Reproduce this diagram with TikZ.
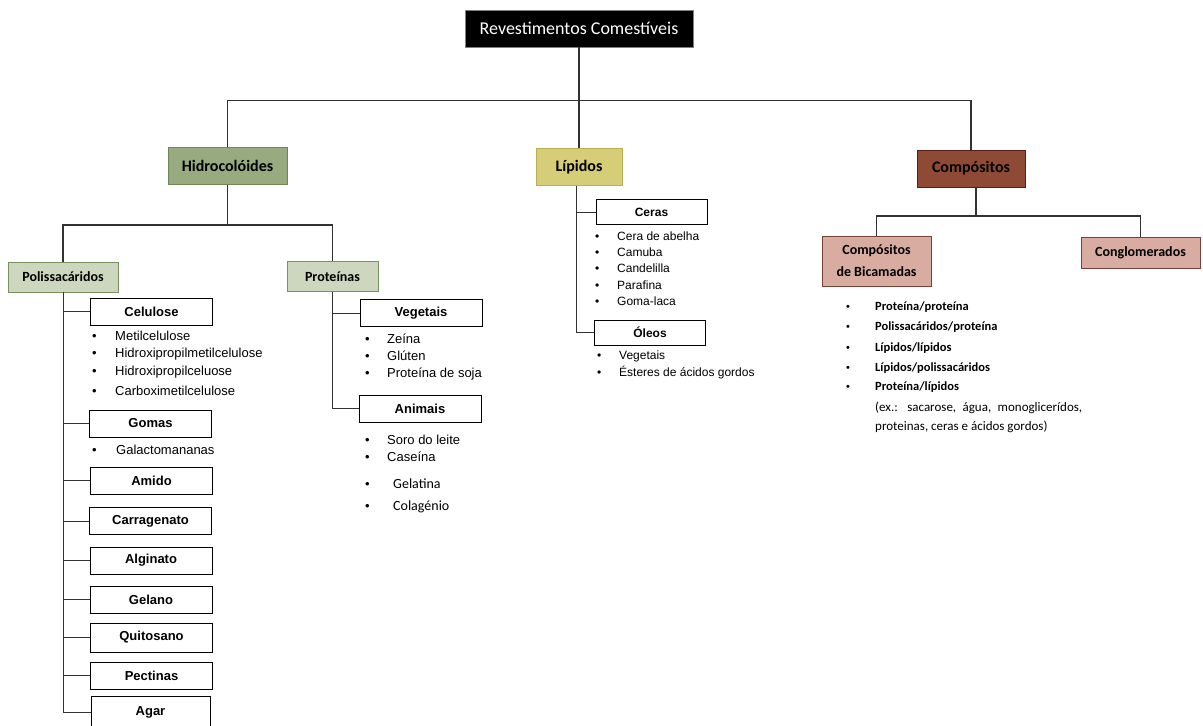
\documentclass[tikz,border=0pt]{standalone}
\usepackage{fontspec}
\setmainfont{Liberation Sans}
\newfontfamily\carl{Carlito}
\definecolor{hidrofill}{RGB}{152,171,128}
\definecolor{hidroline}{RGB}{110,135,85}
\definecolor{polyfill}{RGB}{205,215,190}
\definecolor{polyline}{RGB}{120,145,95}
\definecolor{lipfill}{RGB}{214,205,120}
\definecolor{lipline}{RGB}{185,175,80}
\definecolor{compfill}{RGB}{142,74,52}
\definecolor{compline}{RGB}{90,30,20}
\definecolor{bicfill}{RGB}{216,172,160}
\definecolor{bicline}{RGB}{120,65,55}
\definecolor{conn}{RGB}{50,50,50}
\newcommand{\bitem}[2]{\makebox[#1][l]{•}#2}
\newcommand{\citem}[2]{\makebox[#1][l]{\rmfamily\mdseries\fontsize{11}{13}\selectfont •}#2}
\tikzset{
  rootbox/.style={fill=black, text=white, draw=gray, minimum width=228pt, minimum height=37pt, inner sep=0pt, font=\carl\fontsize{18}{20}\selectfont},
  lvlone/.style={minimum height=37pt, inner sep=0pt, line width=1pt, font=\carl\bfseries\fontsize{16}{18}\selectfont},
  lvltwo/.style={minimum height=30pt, inner sep=0pt, line width=0.8pt, font=\carl\bfseries\fontsize{14}{16}\selectfont, align=center},
  catbox/.style={draw=black, fill=white, line width=0.9pt, minimum width=122pt, minimum height=27pt, inner sep=0pt, font=\bfseries\fontsize{13}{15}\selectfont},
  smallcat/.style={catbox, minimum width=111pt, minimum height=25pt, font=\bfseries\fontsize{12}{14}\selectfont},
  itm/.style={anchor=west, inner sep=0pt, font=\fontsize{13}{15}\selectfont},
  sitm/.style={itm, font=\fontsize{12}{14}\selectfont},
  bitm/.style={itm, font=\carl\bfseries\fontsize{12.5}{14}\selectfont},
  ritm/.style={itm, font=\carl\fontsize{13}{15}\selectfont},
  link/.style={draw=conn, line width=1.2pt},
  slink/.style={draw=conn, line width=0.9pt}
}
\begin{document}
\begin{tikzpicture}[x=1pt,y=-1pt]
\path[use as bounding box, fill=white] (0,0) rectangle (1203,726);

% top level
\node[rootbox] (root) at (579,28.5) {Revestimentos Comestíveis};
\node[lvlone, fill=hidrofill, draw=hidroline, minimum width=119pt] (hidro) at (227.5,165.5) {Hidrocolóides};
\node[lvlone, fill=lipfill, draw=lipline, minimum width=86pt] (lip) at (579,167) {Lípidos};
\node[lvlone, fill=compfill, draw=compline, minimum width=108pt] (comp) at (971,168.5) {Compósitos};

\draw[link] (hidro.north) -- ++(0,-46) -| (comp.north);
\draw[link] (root.south) -- (lip.north);

% hidrocoloides
\node[lvltwo, fill=polyfill, draw=polyline, minimum width=110pt] (polis) at (63,277) {Polissacáridos};
\node[lvltwo, fill=polyfill, draw=polyline, minimum width=91pt] (prot) at (332.5,276.5) {Proteínas};
\coordinate (hb) at (227.5,225);
\draw[link] (hidro.south) -- (hb);
\draw[link] (polis.north) |- (hb) -| (prot.north);

% polissacaridos
\node[catbox] (celu) at (151.5,311.5) {Celulose};
\node[catbox] (gomas) at (150.5,423.5) {Gomas};
\node[catbox] (amido) at (151.5,480.5) {Amido};
\node[catbox] (carra) at (150.5,521) {Carragenato};
\node[catbox] (algi) at (151,560.5) {Alginato};
\node[catbox] (gela) at (151,599.5) {Gelano};
\node[catbox, minimum height=29pt] (quito) at (151.5,637.5) {Quitosano};
\node[catbox] (pect) at (151.5,675.5) {Pectinas};
\node[catbox, minimum width=119pt, minimum height=31pt] (agar) at (150.5,712) {Agar};
\foreach \b in {celu,gomas,amido,carra,algi,gela,quito,pect,agar}
  \draw[slink] (polis.south) |- (\b.west);

\node[itm] (i1) at (92,336) {\bitem{23pt}{Metilcelulose}};
\node[itm] (i2) at (92,354) {\bitem{23pt}{Hidroxipropilmetilcelulose}};
\node[itm] (i3) at (92,372) {\bitem{23pt}{Hidroxipropilceluose}};
\node[itm] (i4) at (92,391) {\bitem{23pt}{Carboximetilcelulose}};
\node[itm] (i5) at (92,450) {\bitem{24pt}{Galactomananas}};

% proteinas
\node[catbox] (veg) at (421,313) {Vegetais};
\node[catbox] (ani) at (420,408.5) {Animais};
\draw[slink] (prot.south) |- (veg.west);
\draw[slink] (prot.south) |- (ani.west);
\node[itm] (p1) at (365,339) {\bitem{22pt}{Zeína}};
\node[itm] (p2) at (365,356) {\bitem{22pt}{Glúten}};
\node[itm] (p3) at (365,374) {\bitem{22pt}{Proteína de soja}};
\node[itm] (p4) at (365,440) {\bitem{22pt}{Soro do leite}};
\node[itm] (p5) at (365,457) {\bitem{22pt}{Caseína}};
\node[itm] (p6) at (365,484) {\bitem{28pt}{\carl\fontsize{14}{16}\selectfont Gelatina}};
\node[itm] (p7) at (365,507) {\bitem{28pt}{\carl\fontsize{14}{16}\selectfont Colagénio}};

% lipidos
\node[smallcat] (ceras) at (651.5,212) {Ceras};
\node[smallcat] (oleos) at (650,332.5) {Óleos};
\draw[slink] (lip.south) ++(-3,0) |- (ceras.west);
\draw[slink] (lip.south) ++(-3,0) |- (oleos.west);
\node[sitm] (l1) at (595,236) {\bitem{22pt}{Cera de abelha}};
\node[sitm] (l2) at (595,252) {\bitem{22pt}{Camuba}};
\node[sitm] (l3) at (595,268) {\bitem{22pt}{Candelilla}};
\node[sitm] (l4) at (595,285) {\bitem{22pt}{Parafina}};
\node[sitm] (l5) at (595,301) {\bitem{22pt}{Goma-laca}};
\node[sitm] (l6) at (597,356) {\bitem{22pt}{Vegetais}};
\node[sitm] (l7) at (597,373) {\bitem{22pt}{Ésteres de ácidos gordos}};

% compositos
\node[lvltwo, fill=bicfill, draw=bicline, minimum width=109pt, minimum height=50pt, font=\carl\bfseries\fontsize{14}{22}\selectfont] (bic) at (876.5,261) {Compósitos\\de Bicamadas};
\node[lvltwo, fill=bicfill, draw=bicline, minimum width=119pt, minimum height=31pt] (cong) at (1140.5,252.5) {Conglomerados};
\coordinate (cb) at (976,216);
\draw[link] (comp.south -| cb) -- (cb);
\draw[link] (bic.north) |- (cb) -| (cong.north);

\node[bitm] (c1) at (846,307) {\citem{29pt}{Proteína/proteína}};
\node[bitm] (c2) at (846,327) {\citem{29pt}{Polissacáridos/proteína}};
\node[bitm] (c3) at (846,348) {\citem{29pt}{Lípidos/lípidos}};
\node[bitm] (c4) at (846,368) {\citem{29pt}{Lípidos/polissacáridos}};
\node[bitm] (c5) at (846,387) {\citem{29pt}{Proteína/lípidos}};
\node[ritm] (c6) at (875,408) {\makebox[207pt][s]{(ex.: sacarose, água, monoglicerídos,}};
\node[ritm] (c7) at (875,427) {proteinas, ceras e ácidos gordos)};
\end{tikzpicture}
\end{document}
